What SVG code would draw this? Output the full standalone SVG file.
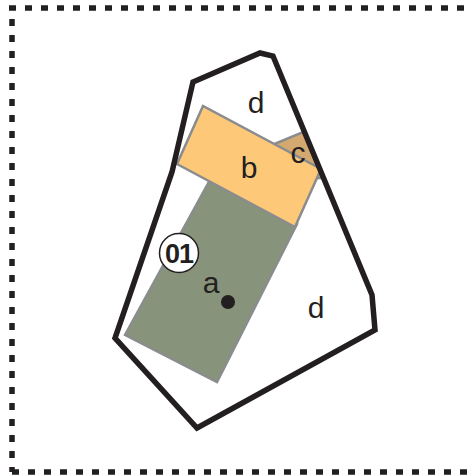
<svg xmlns="http://www.w3.org/2000/svg" width="470" height="475" viewBox="0 0 470 475">
<style>
.frame{fill:none;stroke:#231f20;stroke-width:5.5;stroke-dasharray:7 9}
.zone{stroke:#8a8c8e;stroke-width:2.5;stroke-linejoin:miter}
.lbl{font-family:"Liberation Sans",Arial,sans-serif;font-size:30px;fill:#231f20;text-anchor:middle}
.outline{fill:none;stroke:#231f20;stroke-width:5.5;stroke-linejoin:miter}
</style>
<rect width="470" height="475" fill="#ffffff"/>
<g id="frame">
<path class="frame" d="M9,8 H470"/>
<path class="frame" d="M12,19 V472"/>
<path class="frame" d="M12,472 H470"/>
</g>
<g id="zone-c">
<polygon class="zone" fill="#d4a96f" points="272,145 303,132 324,178 300,178"/>
</g>
<g id="zone-a">
<polygon class="zone" fill="#87937a" points="125,335 217,382 297,224 210,180"/>
</g>
<g id="zone-b">
<polygon class="zone" fill="#fdc878" points="203,106 177,164 295,227 321,169"/>
</g>
<g id="site">
<polygon class="outline" points="193,82 260,53 273,56 372,295 375,330 197,428 115,338 172,172"/>
</g>
<g id="labels">
<text class="lbl" x="256" y="113">d</text>
<text class="lbl" x="249" y="178">b</text>
<text class="lbl" x="298" y="163">c</text>
<text class="lbl" x="211" y="293">a</text>
<text class="lbl" x="316" y="318">d</text>
</g>
<g id="point-a">
<circle cx="228" cy="302" r="7" fill="#231f20"/>
</g>
<g id="tag-01">
<circle cx="179" cy="253" r="19.5" fill="#ffffff" stroke="#231f20" stroke-width="1.5"/>
<text x="179" y="263" font-family="'Liberation Sans',Arial,sans-serif" font-size="27" font-weight="bold" fill="#231f20" text-anchor="middle" letter-spacing="-1">01</text>
</g>
</svg>
